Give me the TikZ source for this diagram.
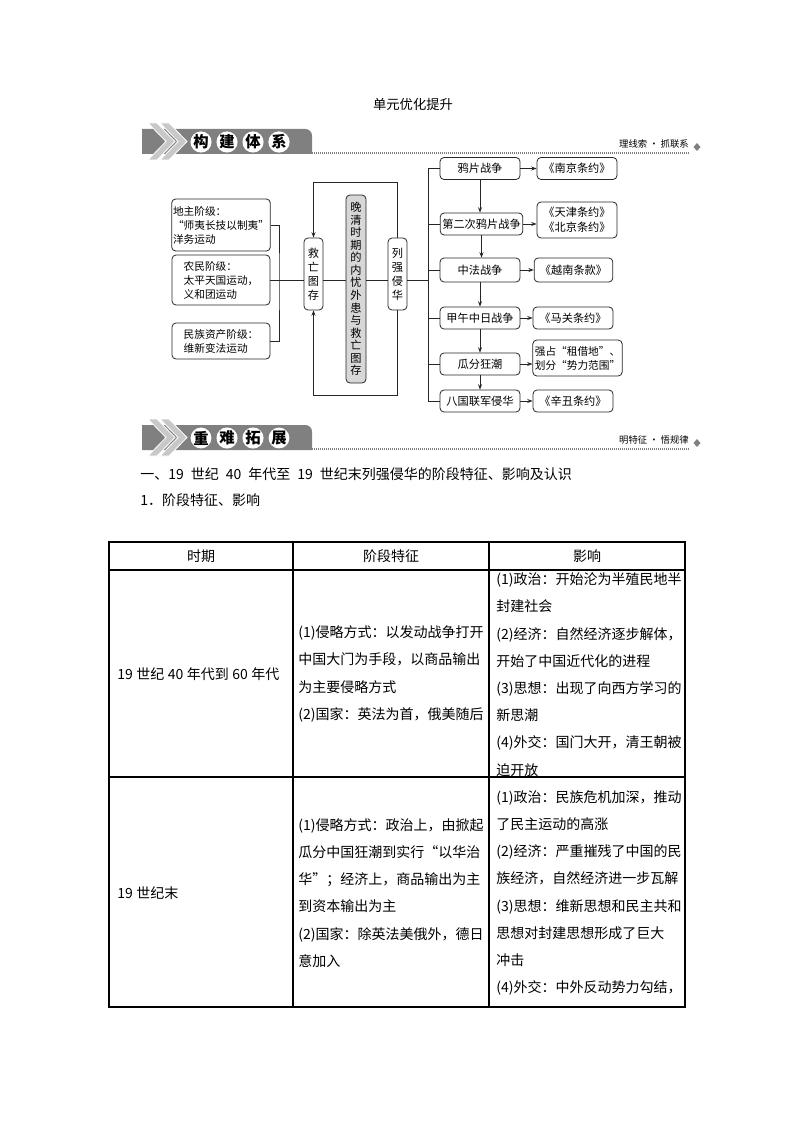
\documentclass[tikz,border=0pt]{standalone}
\usepackage{fontspec}
\setmainfont{Noto Sans CJK SC}
\usetikzlibrary{arrows.meta,positioning}

\definecolor{tabgray}{RGB}{128,128,128}
\definecolor{chevgray}{RGB}{200,200,200}
\definecolor{coregray}{RGB}{215,215,215}

\newcommand{\gap}{\hspace{0.5em}}
\newcommand{\tgap}{\hspace{0.25em}}

\begin{document}
\begin{tikzpicture}[x=0.75pt, y=-0.75pt, >={Stealth[length=4pt,width=3pt]},
  box/.style={draw=black!85, line width=0.6pt, rounded corners=3pt, inner sep=1pt,
    font=\fontsize{8.4}{11}\selectfont, align=center},
  lbox/.style={box, align=left, minimum width=73.5pt, font=\fontsize{8}{10.5}\selectfont},
  vbox/.style={box, minimum width=14.25pt, minimum height=54pt, font=\fontsize{8.4}{10.5}\selectfont},
  war/.style={box, minimum width=60pt, minimum height=16.5pt},
  treaty/.style={box, minimum width=60pt, minimum height=16.5pt},
  link/.style={draw=black!85, line width=0.6pt},
  cell/.style={anchor=west, align=left, inner sep=0pt, font=\fontsize{10.5}{20.4}\selectfont},
]

\useasboundingbox (0,0) rectangle (794,1123);

% page title
\node (title) at (413,104) {\fontsize{10}{12}\selectfont 单元优化提升};

% section banners
\foreach \yy/\ta/\tb/\tc/\td/\rt in {129/构/建/体/系/{理线索 · 抓联系}, 425/重/难/拓/展/{明特征 · 悟规律}}
{
  \fill[tabgray] (142,\yy+25) -- (142,\yy) [rounded corners=5pt] -- (312,\yy) [sharp corners] -- (312,\yy+25) -- cycle;
  \foreach \a in {148,160}
    \filldraw[fill=chevgray, draw=white, line width=0.6pt] (\a,\yy-6) -- (\a+9,\yy-6) -- (\a+27,\yy+12.5)
      -- (\a+9,\yy+31) -- (\a,\yy+31) -- (\a+18,\yy+12.5) -- cycle;
  \foreach \i/\ch in {0/\ta,1/\tb,2/\tc,3/\td}
    \node[circle, fill=white, inner sep=0pt, minimum size=15pt, font=\fontsize{11.5}{11.5}\selectfont\bfseries]
      (ring\yy\i) at (201+26*\i,\yy+13) {\ch};
  \draw[gray, line width=1.4pt, dash pattern=on 0.75pt off 0.75pt] (312,\yy+24) -- (690,\yy+24);
  \node[anchor=east, inner sep=0pt, font=\fontsize{7}{8}\selectfont] (tag\yy) at (689,\yy+15) {\rt};
  \fill[gray] (697,\yy+14) -- (700.5,\yy+18) -- (697,\yy+22) -- (693.5,\yy+18) -- cycle;
}

% classes on the left
\node[lbox, minimum height=39pt] (gentry) at (221,225) {地主阶级：\\“师夷长技以制夷”\\洋务运动};
\node[lbox, minimum height=37.5pt] (peasant) at (221,280) {农民阶级：\\太平天国运动，\\义和团运动};
\node[lbox, minimum height=27pt] (bourg) at (221,341) {民族资产阶级：\\维新变法运动};

% middle column
\node[vbox] (save) at (313.5,274) {救\\亡\\图\\存};
\node[vbox, fill=coregray, minimum width=15pt, minimum height=141pt, font=\fontsize{8.4}{9.4}\selectfont]
  (core) at (356,289) {晚\\清\\时\\期\\的\\内\\忧\\外\\患\\与\\救\\亡\\图\\存};
\node[vbox] (power) at (397.5,274) {列\\强\\侵\\华};

\coordinate (join) at (279,280);
\draw[link] (gentry.east) -| (join) |- (bourg.east);
\draw[link] (peasant.east) -- (peasant.east -| save.west);
\draw[link] (save.east |- peasant.east) -- (core.west |- peasant.east);
\draw[link] (core.east |- peasant.east) -- (power.west |- peasant.east);
\draw[link] (power.east |- peasant.east) -- ++(22,0);

% feedback loops
\draw[link,->] (power.north) -- ++(0,-55) -| (save.north);
\draw[link,->] (power.south) -- ++(0,85) -| (save.south);

% wars
\node[war] (opium) at (480,168.5) {鸦片战争};
\node[war, minimum width=62pt] (opium2) at (481.5,224) {第二次鸦片战争};
\node[war, minimum height=18pt] (sinofr) at (480,270) {中法战争};
\node[war] (sinojp) at (480,318) {甲午中日战争};
\node[war] (scramble) at (480,364) {瓜分狂潮};
\node[war] (eight) at (480,401) {八国联军侵华};

\draw[link] (opium.west) -- ++(-11,0) |- (eight.west);
\foreach \w in {opium2,sinofr,sinojp,scramble}
  \draw[link] (\w.west) -- ++(-11,0);
\foreach \a/\b in {opium/opium2,opium2/sinofr,sinofr/sinojp,sinojp/scramble,scramble/eight}
  \draw[link,->] (\a.south) -- (\a.south |- \b.north);

% treaties
\node[treaty] (nanjing) at (577,168.5) {《南京条约》};
\node[treaty, minimum height=27pt] (tianjin) at (577,220) {《天津条约》\\《北京条约》};
\node[treaty, minimum width=59pt, minimum height=18pt] (vietnam) at (573.5,270) {《越南条款》};
\node[treaty] (maguan) at (573,318) {《马关条约》};
\node[treaty, minimum width=67pt, minimum height=27pt, align=left, font=\fontsize{8}{10.5}\selectfont]
  (lease) at (577.5,358) {强占“租借地”、\\划分“势力范围”};
\node[treaty] (xinchou) at (573,401) {《辛丑条约》};

\foreach \w/\t in {opium/nanjing,opium2/tianjin,sinofr/vietnam,sinojp/maguan,scramble/lease,eight/xinchou}
  \draw[link,->] (\w.east) -- (\w.east -| \t.west);

% headings
\node[anchor=west, inner sep=0pt, font=\fontsize{10.5}{12}\selectfont] (sec) at (140,474)
  {一、19\gap 世纪\gap 40\gap 年代至\gap 19\gap 世纪末列强侵华的阶段特征、影响及认识};
\node[anchor=west, inner sep=0pt, font=\fontsize{10.5}{12}\selectfont] (subsec) at (140,500) {1．阶段特征、影响};

% table grid
\draw[line width=0.8pt] (109,542) rectangle (685,1007);
\draw[line width=0.8pt] (109,570) -- (685,570) (109,777) -- (685,777)
  (293,542) -- (293,1007) (489,542) -- (489,1007);

\node[font=\fontsize{10.5}{12}\selectfont] (hperiod) at (201,556) {时期};
\node[font=\fontsize{10.5}{12}\selectfont] (hfeat) at (391,556) {阶段特征};
\node[font=\fontsize{10.5}{12}\selectfont] (heffect) at (587,556) {影响};

% row 1
\node[cell] (period1) at (117,674) {19\tgap 世纪\tgap 40\tgap 年代到\tgap 60\tgap 年代};
\node[cell] (feat1) at (298,674) {(1)侵略方式：以发动战争打开\\中国大门为手段，以商品输出\\为主要侵略方式\\(2)国家：英法为首，俄美随后};
\node[cell] (effect1) at (496,674.5) {(1)政治：开始沦为半殖民地半\\封建社会\\(2)经济：自然经济逐步解体，\\开始了中国近代化的进程\\(3)思想：出现了向西方学习的\\新思潮\\(4)外交：国门大开，清王朝被\\迫开放};

% row 2
\node[cell] (period2) at (117,893) {19\tgap 世纪末};
\node[cell] (feat2) at (298,893) {(1)侵略方式：政治上，由掀起\\瓜分中国狂潮到实行“以华治\\华”；经济上，商品输出为主\\到资本输出为主\\(2)国家：除英法美俄外，德日\\意加入};
\node[cell] (effect2) at (496,893) {(1)政治：民族危机加深，推动\\了民主运动的高涨\\(2)经济：严重摧残了中国的民\\族经济，自然经济进一步瓦解\\(3)思想：维新思想和民主共和\\思想对封建思想形成了巨大\\冲击\\(4)外交：中外反动势力勾结，};

\end{tikzpicture}
\end{document}
